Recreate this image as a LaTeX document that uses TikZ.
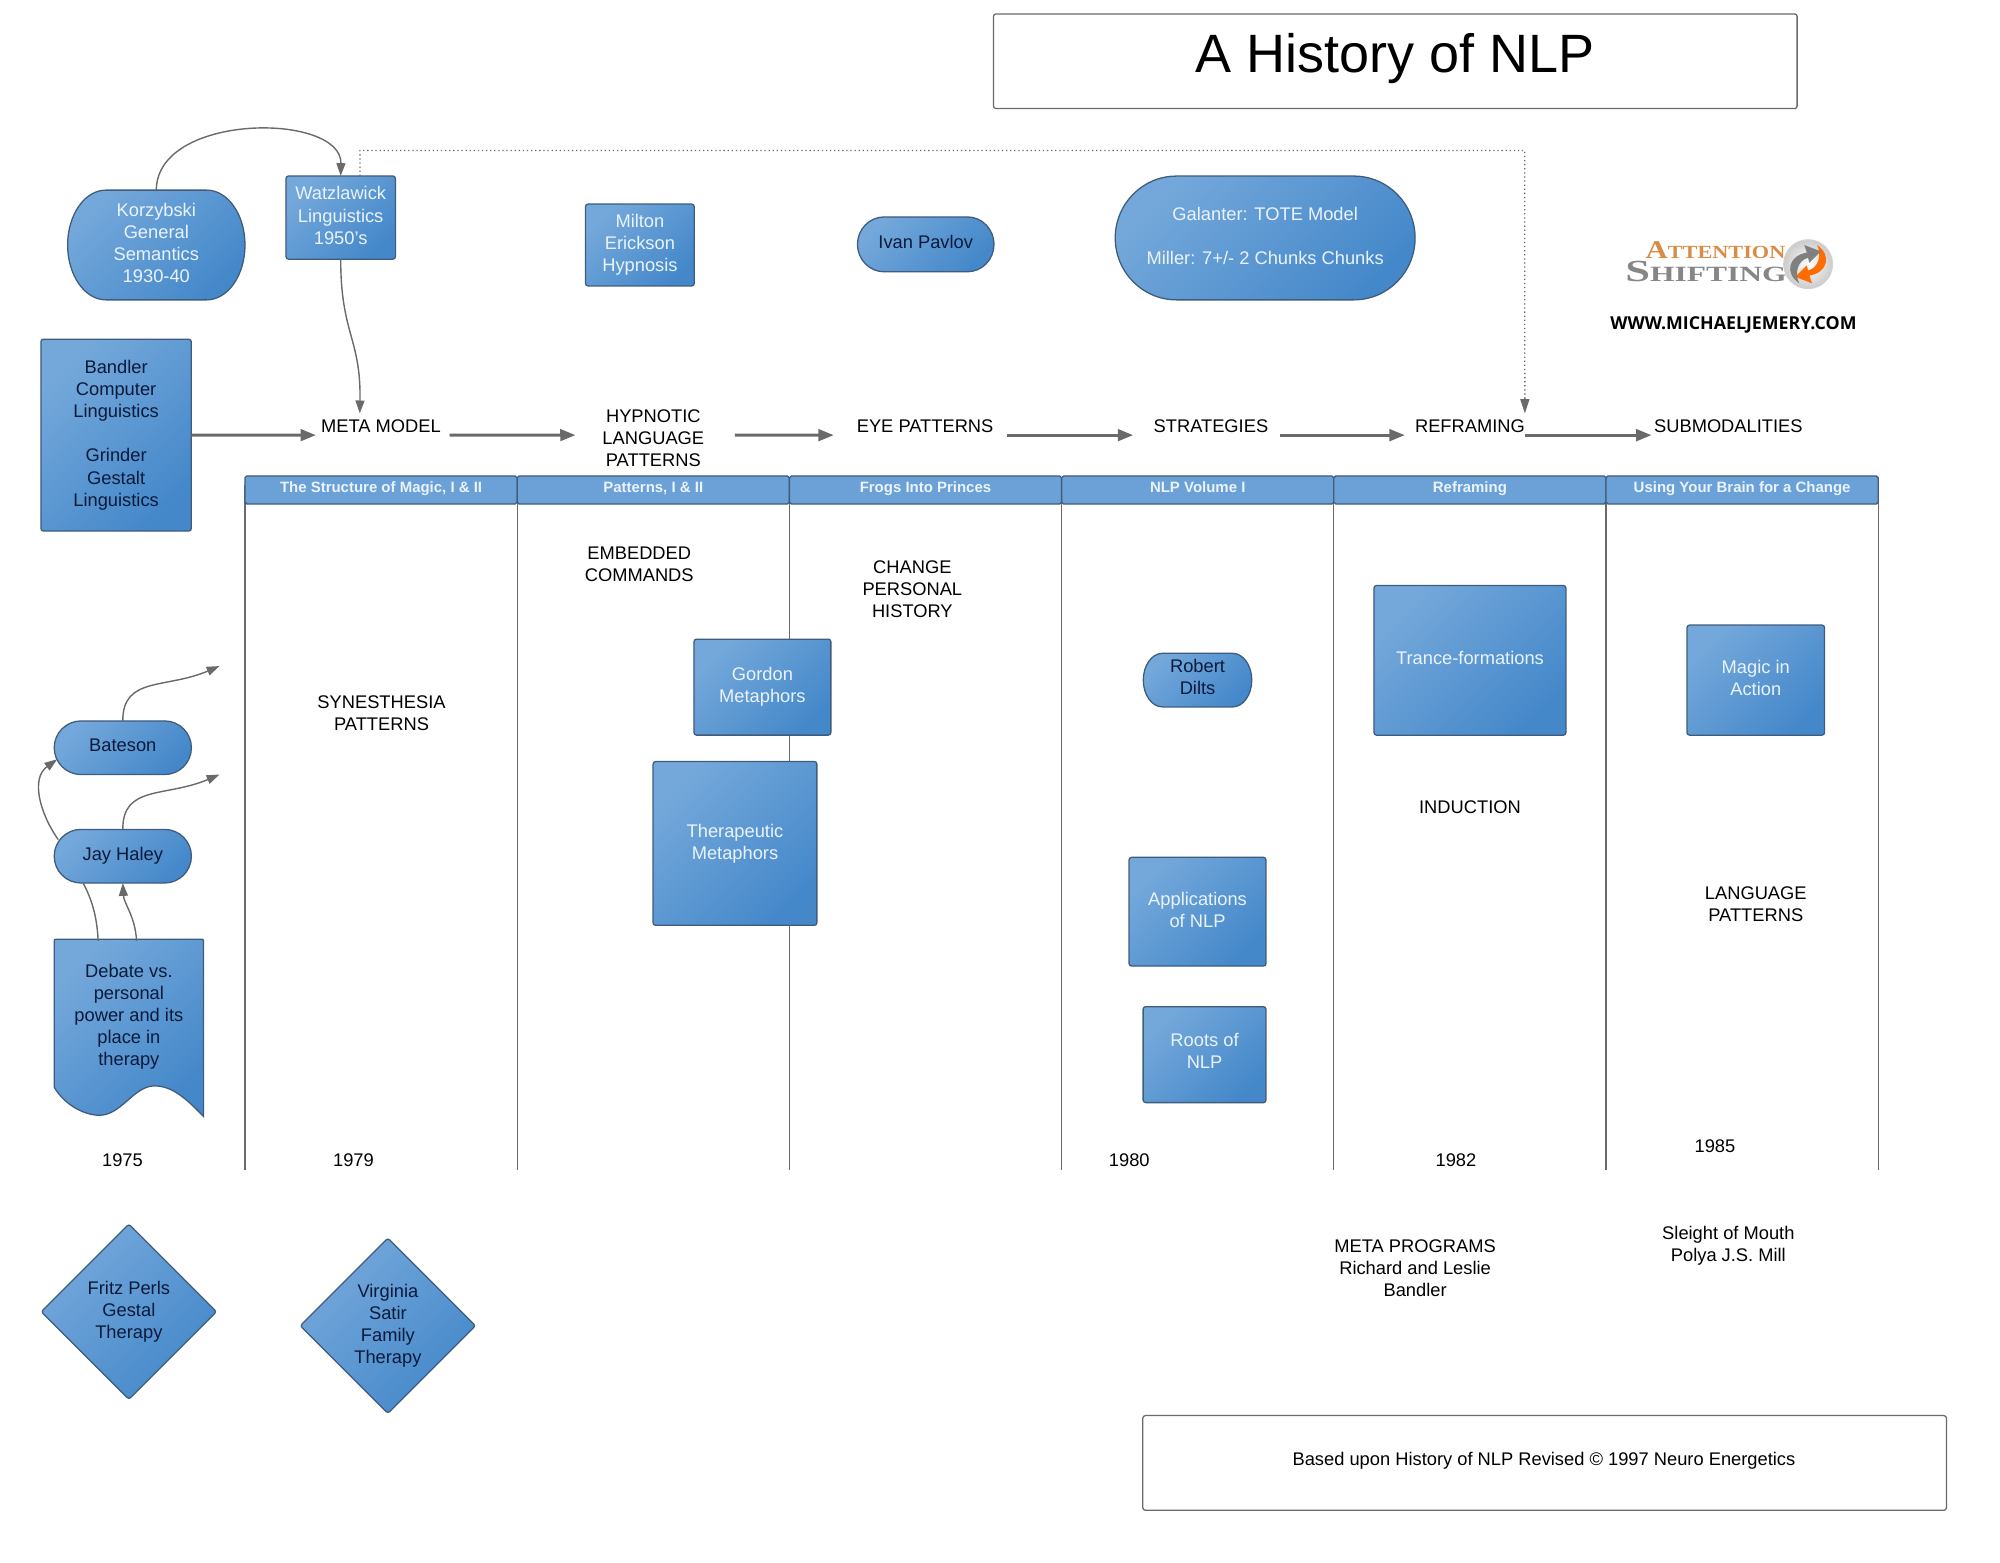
\documentclass[tikz,border=0pt]{standalone}
\usepackage{fontspec}
\usepackage{graphicx}
\setmainfont{Liberation Sans}
\newfontfamily\logofont{Liberation Serif}
\newfontfamily\webfont{Open Sans}
\usetikzlibrary{arrows.meta,shapes.geometric,calc}
\definecolor{bluelight}{HTML}{74A8DA}
\definecolor{bluedark}{HTML}{4588CA}
\definecolor{edgeblue}{HTML}{3F5C7C}
\definecolor{darktxt}{HTML}{0A1A3C}
\definecolor{lighttxt}{HTML}{EAF3FB}
\definecolor{linegray}{HTML}{6A6A6A}
\definecolor{headblue}{HTML}{6BA1D6}
\definecolor{logoorange}{HTML}{D88C46}
\definecolor{logogray}{HTML}{868686}
\newcommand\nudgeA{\\[-14pt]\mbox{}}
\newcommand\nudgeB{\\[-12pt]\mbox{}}
\tikzset{
  txt/.style={align=center,inner sep=0pt,outer sep=0pt,font=\fontsize{14.3}{17.3}\selectfont},
  bluefill/.style={draw=edgeblue,line width=1pt,top color=bluelight,bottom color=bluedark,shading angle=45},
  darkt/.style={text=darktxt},
  lightt/.style={text=lighttxt},
  bluebox/.style={txt,bluefill,rounded corners=2pt,rectangle},
  bluediamond/.style={txt,darkt,bluefill,diamond,aspect=1,rounded corners=2pt,minimum width=137pt,minimum height=137pt},
  framebox/.style={rectangle,draw=linegray,line width=1pt,rounded corners=2pt,inner sep=0pt},
  lane/.style={draw=linegray,line width=1pt},
  headbar/.style={rectangle,draw=edgeblue,line width=1pt,fill=headblue,rounded corners=1.5pt,minimum height=22pt,inner sep=0pt,
    minimum width=212.7pt,text=lighttxt,font=\fontsize{11.7}{13}\selectfont\bfseries},
  flow/.style={draw=linegray,line width=2.4pt,-{Triangle[length=12pt,width=9pt]}},
  thin/.style={draw=linegray,line width=1.1pt},
  thinarrow/.style={thin,-{Triangle[length=10pt,width=7pt]}},
  dotline/.style={draw=linegray,line width=1pt,dash pattern=on 1pt off 2.2pt,-{Triangle[length=11pt,width=7pt]}},
}
% name x1 y1 x2 y2 rx textstyle text
\newcommand\pillbox[8]{%
  \pgfmathsetmacro\pW{#4-#2}\pgfmathsetmacro\pH{#5-#3}%
  \pgfmathsetmacro\pXc{(#2+#4)/2}\pgfmathsetmacro\pYc{(#3+#5)/2}%
  \pgfmathsetmacro\pRy{(#5-#3)/2}\pgfmathsetmacro\pKx{0.5523*#6}\pgfmathsetmacro\pKy{0.5523*\pRy}%
  \path[bluefill] ({#2+#6},#3) -- ({#4-#6},#3)
    .. controls ({#4-#6+\pKx},#3) and (#4,{\pYc-\pKy}) .. (#4,\pYc)
    .. controls (#4,{\pYc+\pKy}) and ({#4-#6+\pKx},#5) .. ({#4-#6},#5)
    -- ({#2+#6},#5)
    .. controls ({#2+#6-\pKx},#5) and (#2,{\pYc+\pKy}) .. (#2,\pYc)
    .. controls (#2,{\pYc-\pKy}) and ({#2+#6-\pKx},#3) .. ({#2+#6},#3) -- cycle;
  \node[txt,#7,minimum width=\pW pt,minimum height=\pH pt] (#1) at (\pXc,\pYc) {#8};
}
\begin{document}
\begin{tikzpicture}[x=0.9972pt,y=-0.9972pt]
\useasboundingbox (0,0) rectangle (1567.4,1224.7);
% title and footer
\node[framebox,minimum width=628pt,minimum height=74pt] (titlebox) at (1093.5,48) {};
\node[txt,font=\fontsize{42.2}{50}\selectfont] (title) at (1093,46) {A History of NLP};
\node[framebox,minimum width=628pt,minimum height=74pt] (footbox) at (1210.5,1146.5) {};
\node[txt] (foot) at (1210,1145) {Based upon History of NLP Revised © 1997 Neuro Energetics};
% swimlanes
\foreach \x in {192,405.3,618.6,832,1045.3,1258.6,1472} \draw[lane] (\x,380) -- (\x,917);
\node[headbar] (h1) at (298.65,384) {\raisebox{4pt}{The Structure of Magic, I \& II}};
\node[headbar] (h2) at (511.95,384) {\raisebox{4pt}{Patterns, I \& II}};
\node[headbar] (h3) at (725.3,384) {\raisebox{4pt}{Frogs Into Princes}};
\node[headbar] (h4) at (938.65,384) {\raisebox{4pt}{NLP Volume I}};
\node[headbar] (h5) at (1151.95,384) {\raisebox{4pt}{Reframing}};
\node[headbar] (h6) at (1365.3,384) {\raisebox{4pt}{Using Your Brain for a Change}};
% pills
\pillbox{kor}{53}{149}{192}{235}{30}{lightt}{Korzybski\\General\\Semantics\\1930-40\nudgeA}
\pillbox{ivan}{672}{170}{779}{213}{21}{darkt}{Ivan Pavlov\nudgeA}
\pillbox{gal}{874}{138}{1109}{235}{48}{lightt}{Galanter: TOTE Model\\[17.3pt]Miller: 7+/- 2 Chunks Chunks\nudgeA}
\pillbox{bat}{42.5}{565}{150}{607}{21}{darkt}{Bateson\nudgeA}
\pillbox{jay}{42.5}{650}{150}{692}{21}{darkt}{Jay Haley}
\pillbox{dilts}{896}{512}{981}{554}{15}{darkt}{Robert\\Dilts\nudgeB}
% rectangles
\node[bluebox,lightt,minimum width=85.5pt,minimum height=65pt] (watz) at (267,170.5) {Watzlawick\\Linguistics\\1950's\nudgeA};
\node[bluebox,lightt,minimum width=85pt,minimum height=64pt] (milton) at (501.5,192) {Milton\\Erickson\\Hypnosis};
\node[bluebox,darkt,minimum width=117.5pt,minimum height=150pt] (band) at (91,341) {Bandler\\Computer\\Linguistics\\[17.3pt]Grinder\\Gestalt\\Linguistics};
\node[bluebox,lightt,minimum width=107pt,minimum height=75pt] (gordon) at (597.5,538.5) {Gordon\\Metaphors};
\node[bluebox,lightt,minimum width=128pt,minimum height=128pt] (thera) at (576,661) {Therapeutic\\Metaphors};
\node[bluebox,lightt,minimum width=150pt,minimum height=117pt] (trance) at (1152,517.5) {Trance-formations\nudgeA};
\node[bluebox,lightt,minimum width=107.5pt,minimum height=86pt] (magic) at (1376,533) {Magic in\\Action\nudgeA};
\node[bluebox,lightt,minimum width=107pt,minimum height=85pt] (appl) at (938.5,714.5) {Applications\\of NLP\nudgeA};
\node[bluebox,lightt,minimum width=96pt,minimum height=75pt] (roots) at (944,826.5) {Roots of\\NLP\nudgeB};
% debate document shape
\path[bluefill] (44,736) -- (158,736) .. controls (159,736) and (159.5,736.5) .. (159.5,737.5) -- (159.5,875)
  .. controls (146,861) and (135,851) .. (121,851)
  .. controls (105,851) and (95,874) .. (78,874)
  .. controls (65,874) and (50,865) .. (42.5,852) -- (42.5,737.5) .. controls (42.5,736.5) and (43,736) .. (44,736) -- cycle;
\node[txt,darkt,minimum width=117pt,minimum height=119pt] (debate) at (101,797) {Debate vs.\\personal\\power and its\\place in\\therapy};
% diamonds
\node[bluediamond] (fritz) at (101,1028) {Fritz Perls\\Gestal\\Therapy};
\node[bluediamond] (satir) at (304,1039) {Virginia\\Satir\\Family\\Therapy};
% flow labels
\node[txt] (meta) at (298.5,334) {META MODEL};
\node[txt] (hyp) at (512,343.5) {HYPNOTIC\\LANGUAGE\\PATTERNS};
\node[txt] (eye) at (725,334) {EYE PATTERNS};
\node[txt] (strat) at (949,334) {STRATEGIES};
\node[txt] (refr) at (1152,334) {REFRAMING};
\node[txt] (sub) at (1354.5,334) {SUBMODALITIES};
% free text
\node[txt] (syn) at (299,559) {SYNESTHESIA\\PATTERNS};
\node[txt] (emb) at (501,442) {EMBEDDED\\COMMANDS};
\node[txt] (chg) at (715,461.5) {CHANGE\\PERSONAL\\HISTORY};
\node[txt] (ind) at (1152,632.5) {INDUCTION};
\node[txt] (lang) at (1376,708.5) {LANGUAGE\\PATTERNS};
\node[txt] (y75) at (96,909) {1975};
\node[txt] (y79) at (277,909) {1979};
\node[txt] (y80) at (885,909) {1980};
\node[txt] (y82) at (1141,909) {1982};
\node[txt] (y85) at (1344,898) {1985};
\node[txt] (mp) at (1109,994) {META PROGRAMS\\Richard and Leslie\\Bandler};
\node[txt] (sl) at (1354.5,976) {Sleight of Mouth\\Polya J.S. Mill};
% flow arrows
\draw[flow] (band.east) -- ([xshift=-4pt,yshift=-7pt]meta.west);
\draw[flow] ([xshift=7pt,yshift=-7pt]meta.east) -- ([xshift=-21pt,yshift=2.5pt]hyp.west);
\draw[flow] ([xshift=24pt,yshift=2.5pt]hyp.east) -- ([xshift=-18pt,yshift=-7pt]eye.west);
\draw[flow] ([xshift=11pt,yshift=-7pt]eye.east) -- ([xshift=-16pt,yshift=-7pt]strat.west);
\draw[flow] ([xshift=9pt,yshift=-7pt]strat.east) -- ([xshift=-8pt,yshift=-7pt]refr.west);
\draw[flow] ([yshift=-7pt]refr.east) -- ([xshift=-2pt,yshift=-7pt]sub.west);
% thin curves
\draw[thinarrow] (kor.north) .. controls (123,88) and (268,88) .. (watz.north);
\draw[thinarrow] (watz.south) .. controls (267,262) and (283,265) .. ([xshift=-16.5pt,yshift=5pt]meta.north);
\coordinate (dotcorner) at (1195,118);
\draw[dotline] ([xshift=15pt]watz.north) |- (dotcorner) -- ([yshift=5pt]refr.north east);
\coordinate (batfree) at (172,522);
\coordinate (jayfree) at (172,607);
\draw[thinarrow] (bat.north) .. controls (96,530) and (130,540) .. (batfree);
\draw[thinarrow] (jay.north) .. controls (96,615) and (130,625) .. (jayfree);
\draw[thinarrow] ([xshift=-50.5pt,yshift=-8pt]jay.north) .. controls (31,637) and (24,610) .. ([xshift=2.5pt,yshift=-9pt]bat.west);
\draw[thin] ([xshift=-24pt]debate.north) .. controls (76,718) and (72,705) .. ([xshift=-31pt]jay.south);
\draw[thinarrow] ([xshift=6pt]debate.north) .. controls (106,718) and (97,708) .. (jay.south);
% logo
\node[anchor=west,inner sep=0pt,text=logoorange] (attn) at (1289.5,196) {\logofont\bfseries\scalebox{1.2}[1]{\fontsize{20}{20}\selectfont A\fontsize{14.5}{20}\selectfont TTENTION}};
\node[anchor=west,inner sep=0pt,text=logogray] (shift) at (1273.5,213) {\logofont\bfseries\scalebox{1.45}[1]{\fontsize{24}{24}\selectfont S\fontsize{17}{24}\selectfont HIFTING}};
\node[circle,minimum size=38pt,inner sep=0pt,draw=black!18,line width=1pt,inner color=white,outer color=black!20] (globe) at (1417,207) {};
\fill[orange!85!red] (1424,192) .. controls (1436,200) and (1432,214) .. (1418,216) -- (1420,222) -- (1407,217) -- (1416,208) -- (1417,212) .. controls (1425,210) and (1428,200) .. cycle;
\fill[black!50] (1410,222) .. controls (1398,214) and (1402,200) .. (1416,198) -- (1414,192) -- (1427,197) -- (1418,206) -- (1417,202) .. controls (1409,204) and (1406,214) .. cycle;
\node[inner sep=0pt,font=\webfont\fontsize{13.9}{17}\selectfont\bfseries] (web) at (1358.5,255) {WWW.MICHAELJEMERY.COM};
\end{tikzpicture}
\end{document}
